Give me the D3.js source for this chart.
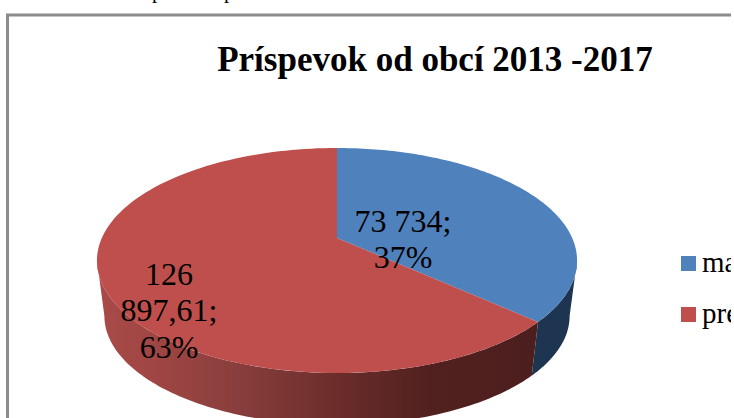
<!DOCTYPE html>
<html><head><meta charset="utf-8">
<script src="https://cdn.jsdelivr.net/npm/d3@7/dist/d3.min.js"></script>
<style>html,body{margin:0;padding:0;background:#fff;overflow:hidden}svg{display:block}text{font-family:"Liberation Serif",serif;fill:#000}</style>
</head><body><svg id="c" width="734" height="418"></svg>
<script>
const chartTitle = "Príspevok od obcí 2013 -2017";
const categories = ["ma", "pre"];
const values = [73734, 126897.61];
const labelLines = [["73 734;", "37%"], ["126", "897,61;", "63%"]];
const topColors = ["#4f81bd", "#be4f4c"];
const clippedAbove = ["p", "p"];

const svg = d3.select("#c");
const defs = svg.append("defs");
defs.append("clipPath").attr("id","page").append("rect").attr("width",731).attr("height",418);

// remnants of the page text cut off above the chart
clippedAbove.forEach((t,i)=>{
  svg.append("text").attr("x",152+i*72).attr("y",-2).attr("font-size",21).text(t);
});

// frame
svg.append("path").attr("d","M7.5 418V15H731").attr("fill","none").attr("stroke","#8c8c8c").attr("stroke-width",3);

svg.append("text").attr("x",435).attr("y",71).attr("text-anchor","middle")
  .attr("font-size",35).attr("font-weight","bold").text(chartTitle);

// perspective projection of the pie's disc
const cx=337, a=238, b=-60.4, k=0.2, sx=235.2, rimScale=0.969, rimShift=63.6;
const topPt = t => { const X=Math.sin(t), Z=Math.cos(t), w=1+k*Z; return [cx+sx*X/w,(a+b*Z)/w]; };
const botPt = t => { const p=topPt(t); return [cx+(p[0]-cx)*rimScale, p[1]*rimScale+rimShift]; };
const line = d3.line();
const arcs = d3.pie().sort(null)(values);
const samples = (s,e) => d3.range(0,121).map(i=>s+(e-s)*i/120);
const leftSil = Math.PI*2-Math.acos(-k), rightSil = Math.acos(-k);

// side gradients
const g1 = defs.append("linearGradient").attr("id","redSide").attr("gradientUnits","userSpaceOnUse")
  .attr("x1",100).attr("x2",540).attr("y1",0).attr("y2",0);
[[0,"#a84a48"],[0.12,"#a04644"],[0.3,"#8a3f3d"],[0.55,"#6a2c2a"],[0.75,"#51211f"],[1,"#4c1e1d"]]
  .forEach(s=>g1.append("stop").attr("offset",s[0]).attr("stop-color",s[1]));

const sides = [
 {s:rightSil, e:arcs[0].endAngle, fill:"#1d3550"},
 {s:arcs[1].startAngle, e:leftSil, fill:"url(#redSide)"}
];
sides.forEach(d=>{
  const ts=samples(d.s,d.e);
  const pts=ts.map(topPt).concat(ts.slice().reverse().map(botPt));
  svg.append("path").attr("d",line(pts)+"Z").attr("fill",d.fill);
});

// top face
arcs.forEach((d,i)=>{
  const pts=[[cx,a]].concat(samples(d.startAngle,d.endAngle).map(topPt));
  svg.append("path").attr("d",line(pts)+"Z").attr("fill",topColors[i]);
});

// data labels
const lab = [{x:403,y:[232,268]},{x:169,y:[285,321,358]}];
labelLines.forEach((ls,i)=>ls.forEach((t,j)=>{
  svg.append("text").attr("x",lab[i].x).attr("y",lab[i].y[j]).attr("text-anchor","middle").attr("font-size",32).text(t);
}));

// legend
const lg = svg.append("g").attr("clip-path","url(#page)");
categories.forEach((c,i)=>{
  const y=256+i*51;
  lg.append("rect").attr("x",681).attr("y",y).attr("width",15).attr("height",15).attr("fill",topColors[i]);
  lg.append("text").attr("x",702).attr("y",y+16).attr("font-size",29).text(c);
});
</script></body></html>
